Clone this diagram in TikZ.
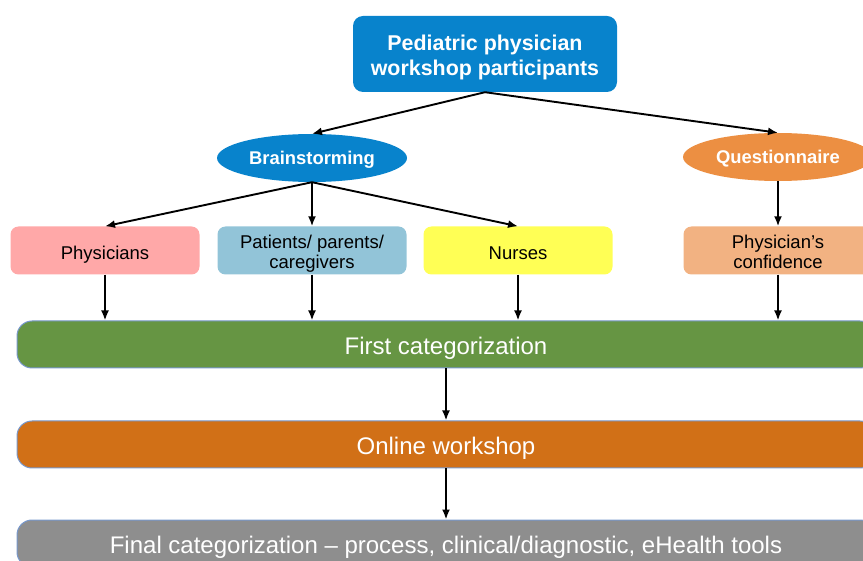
\documentclass[tikz,border=0pt]{standalone}
\usepackage{fontspec}
\setmainfont{Liberation Sans}
\usepackage{tikz}
\usepackage{xcolor}
\usetikzlibrary{shapes.geometric}
\usetikzlibrary{arrows.meta}
\tikzset{>={Latex[length=10pt,width=8pt]}}
\definecolor{partblue}{RGB}{8,131,204}
\definecolor{questorange}{RGB}{236,143,66}
\definecolor{physpink}{RGB}{255,168,168}
\definecolor{patblue}{RGB}{146,196,216}
\definecolor{nurseyellow}{RGB}{255,255,85}
\definecolor{confpeach}{RGB}{242,178,130}
\definecolor{firstgreen}{RGB}{102,149,67}
\definecolor{onlineorange}{RGB}{209,112,23}
\definecolor{finalgray}{RGB}{142,142,142}
\definecolor{barline}{RGB}{120,152,204}
\tikzset{
    topblock/.style = {rectangle, rounded corners=10pt, fill=partblue,
        minimum width=264pt, minimum height=76pt, inner sep=0pt,
        text=white, align=center, text height=42.4pt, text depth=0pt,
        font=\bfseries\fontsize{21.4}{24.3}\selectfont},
    oval/.style = {ellipse, minimum width=190pt, minimum height=48pt,
        inner sep=0pt, text=white, text height=13.5pt, text depth=0pt,
        font=\bfseries\fontsize{18.4}{21}\selectfont},
    block/.style = {rectangle, rounded corners=8pt,
        minimum width=189pt, minimum height=48pt, inner sep=0pt,
        align=center, text height=18.6pt, text depth=0pt,
        font=\fontsize{18.5}{20}\selectfont},
    twoline/.style = {text height=35.6pt, text depth=0pt},
    bar/.style = {rectangle, rounded corners=15pt, draw=barline, line width=1pt,
        minimum width=858pt, minimum height=47pt, inner sep=0pt,
        text=white, text height=20.2pt, text depth=0pt,
        font=\fontsize{24}{26}\selectfont},
    arrow/.style = {draw, ->, line width=1.9pt}
}
\begin{document}
\begin{tikzpicture}[x=1pt, y=-1pt]
    \useasboundingbox (0,0) rectangle (863,561);
    \clip (0,0) rectangle (863,561);
    \node [topblock] (part) at (485,54) {Pediatric physician\\workshop participants};
    \node [oval, fill=partblue, below of=part, node distance=104pt, xshift=-173pt] (brain) {Brainstorming};
    \node [oval, fill=questorange, right of=brain, node distance=466pt, yshift=1pt] (quest) {Questionnaire};
    \node [block, fill=physpink, below of=brain, node distance=92.5pt, xshift=-207pt] (phys) {Physicians};
    \node [block, twoline, fill=patblue, right of=phys, node distance=207pt] (pat) {Patients/ parents/\\caregivers};
    \node [block, fill=nurseyellow, right of=pat, node distance=206pt] (nurse) {Nurses};
    \node [block, twoline, fill=confpeach, below of=quest, node distance=93.5pt] (conf) {Physician’s\\confidence};
    \node [bar, fill=firstgreen, below of=pat, node distance=94pt, xshift=134pt] (first) {First categorization};
    \node [bar, fill=onlineorange, below of=first, node distance=100pt] (online) {Online workshop};
    \node [bar, fill=finalgray, below of=online, node distance=99pt] (final) {Final categorization – process, clinical/diagnostic, eHealth tools};
    \draw [arrow] (part.south) -- (brain.north);
    \draw [arrow] (part.south) -- (quest.north);
    \draw [arrow] (brain.south) -- (phys.north);
    \draw [arrow] (brain.south) -- (pat.north);
    \draw [arrow] (brain.south) -- (nurse.north);
    \draw [arrow] (quest.south) -- (conf.north);
    \draw [arrow] (phys.south) -- (phys.south |- first.north);
    \draw [arrow] (pat.south) -- (pat.south |- first.north);
    \draw [arrow] (nurse.south) -- (nurse.south |- first.north);
    \draw [arrow] (conf.south) -- (conf.south |- first.north);
    \draw [arrow] (first.south) -- (online.north);
    \draw [arrow] (online.south) -- (final.north);
\end{tikzpicture}
\end{document}
